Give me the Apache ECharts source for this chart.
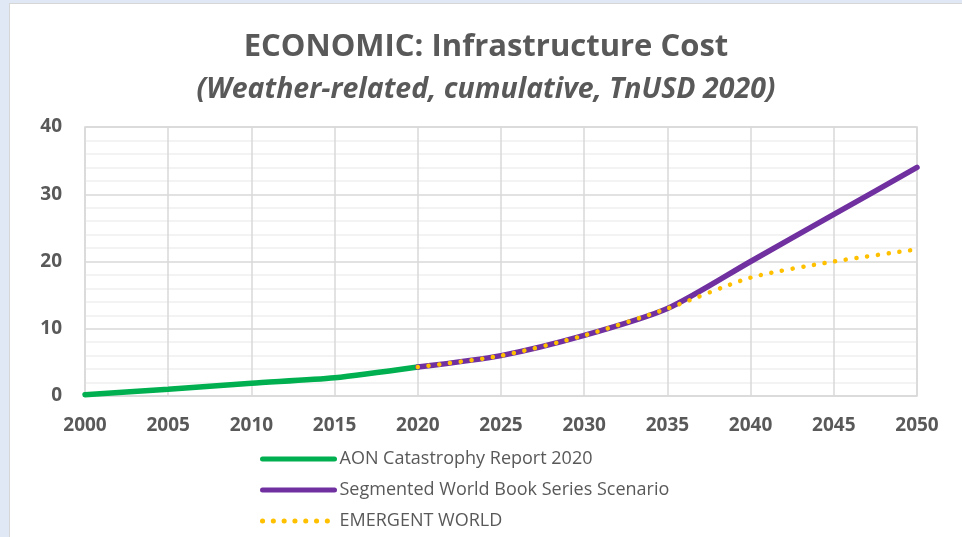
<!DOCTYPE html>
<html>
<head>
<meta charset="utf-8">
<script src="https://cdn.jsdelivr.net/npm/echarts@6/dist/echarts.min.js"></script>
<style>
  html, body { margin: 0; padding: 0; width: 962px; height: 537px; background: #dfe8f4; overflow: hidden; }
  #box { position: absolute; left: 9px; top: 3px; width: 952px; height: 534px; background: #fff; border-left: 1px solid #d6d6d6; border-top: 1px solid #d6d6d6; }
  #chart { width: 952px; height: 534px; }
</style>
</head>
<body>
<div id="box"><div id="chart"></div></div>
<script>
  // 数据
  const years = [2000, 2005, 2010, 2015, 2020, 2025, 2030, 2035, 2040, 2045, 2050];
  const aonYears = [2000, 2005, 2010, 2015, 2020];
  const aonValues = [0.2, 1.0, 1.9, 2.7, 4.3];
  const scenarioYears = [2020, 2025, 2030, 2035, 2040, 2045, 2050];
  const segmentedValues = [4.3, 6.0, 9.0, 13.0, 20.0, 27.0, 34.0];
  const emergentValues = [4.3, 6.0, 9.0, 13.0, 17.6, 20.0, 21.8];
  const yTicks = [0, 10, 20, 30, 40];

  const pairs = (xs, ys) => xs.map((x, i) => [x, ys[i]]);
  const font = 'Open Sans';
  const grey = '#595959';

  let myChart = echarts.init(document.getElementById('chart'));
  myChart.setOption({
    animation: false,
    title: [
      {
        text: 'ECONOMIC: Infrastructure Cost',
        left: 'center',
        top: 23,
        textStyle: { fontFamily: font, fontWeight: 'bold', fontSize: 31, color: grey }
      },
      {
        text: '(Weather-related, cumulative, TnUSD 2020)',
        left: 'center',
        top: 66,
        textStyle: { fontFamily: font, fontWeight: 'bold', fontStyle: 'italic', fontSize: 28.5, color: grey }
      }
    ],
    // 网格
    grid: {
      left: 75, right: 45, top: 123, bottom: 142,
      show: true,
      borderColor: '#d9d9d9',
      borderWidth: 1.5
    },
    legend: {
      orient: 'vertical',
      left: 250,
      top: 445,
      height: 89,
      padding: 0,
      itemWidth: 72,
      itemHeight: 14,
      itemGap: 11,
      itemStyle: { opacity: 0 },
      lineStyle: { width: 5 },
      textStyle: { fontFamily: font, fontSize: 18, color: grey, lineHeight: 20 },
      data: ['AON Catastrophy Report 2020', 'Segmented World Book Series Scenario', 'EMERGENT WORLD']
    },
    xAxis: {
      type: 'value',
      min: years[0],
      max: years[years.length - 1],
      interval: 5,
      axisLine: { show: false },
      axisTick: { show: false },
      axisLabel: {
        margin: 20,
        fontFamily: font, fontWeight: 'bold', fontSize: 19, color: grey,
        formatter: v => String(v)
      },
      splitLine: { show: true, lineStyle: { color: '#d9d9d9', width: 1.5 } }
    },
    yAxis: {
      type: 'value',
      min: yTicks[0],
      max: yTicks[yTicks.length - 1],
      interval: 10,
      axisLine: { show: false },
      axisTick: { show: false },
      axisLabel: { margin: 23, fontFamily: font, fontWeight: 'bold', fontSize: 19, color: grey },
      splitLine: { lineStyle: { color: '#d9d9d9', width: 1.5 } },
      minorTick: { show: false, splitNumber: 5 },
      minorSplitLine: { show: true, lineStyle: { color: '#f0f0f0', width: 1.5 } }
    },
    series: [
      {
        name: 'AON Catastrophy Report 2020',
        type: 'line',
        data: pairs(aonYears, aonValues),
        smooth: 0.25,
        symbol: 'none',
        color: '#00b050',
        lineStyle: { width: 5.5, color: '#00b050', cap: 'round' }
      },
      {
        name: 'Segmented World Book Series Scenario',
        type: 'line',
        data: pairs(scenarioYears, segmentedValues),
        smooth: 0.25,
        symbol: 'none',
        color: '#7030a0',
        lineStyle: { width: 5.5, color: '#7030a0', cap: 'round' }
      },
      {
        name: 'EMERGENT WORLD',
        type: 'line',
        data: pairs(scenarioYears, emergentValues),
        smooth: 0.25,
        symbol: 'none',
        color: '#ffc000',
        lineStyle: { width: 4.5, color: '#ffc000', type: [0.1, 10.7], cap: 'round' }
      }
    ]
  });
</script>
</body>
</html>
